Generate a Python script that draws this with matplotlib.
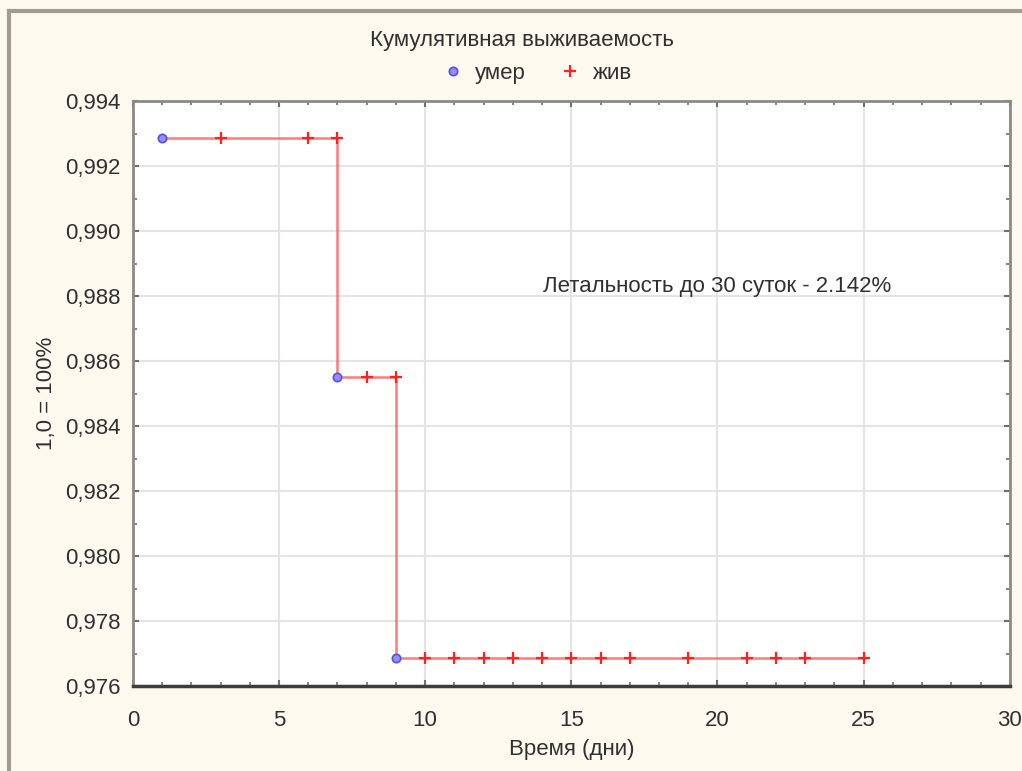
import matplotlib.pyplot as plt
from matplotlib.lines import Line2D
from matplotlib.ticker import MultipleLocator, FuncFormatter

plt.rcParams['font.family'] = ['Liberation Sans', 'DejaVu Sans']

# Kaplan-Meier step curve
step_t = [1, 7, 9, 25]
step_s = [0.99286, 0.98551, 0.97687, 0.97687]

# died (complete observations)
died_t = [1, 7, 9]
died_s = [0.99286, 0.98551, 0.97687]

# alive (censored observations)
cens_t = [3, 6, 7, 8, 9, 10, 11, 12, 13, 14, 15, 16, 17, 19, 21, 22, 23, 25]
cens_s = [0.99286, 0.99286, 0.99286, 0.98551, 0.98551] + [0.97687] * 13

bg = '#fdf9ee'
fs = 16
fig = plt.figure(figsize=(10.22, 7.71), dpi=100, facecolor=bg)
ax = fig.add_axes([0.130, 0.110, 0.858, 0.759])
ax.set_facecolor('white')

ax.step(step_t, step_s, where='post', color='#ff5a5a', lw=1.8, alpha=0.8, zorder=2)
ax.plot(cens_t, cens_s, ls='none', marker='+', ms=9, mew=1.6, color='#ff2020',
        label='жив', zorder=3)
ax.plot(died_t, died_s, ls='none', marker='o', ms=6, mew=1.2, mfc='#9a8cf0',
        mec='#5050f0', label='умер', zorder=4)

ax.set_xlim(0, 30)
ax.set_ylim(0.976, 0.994)
ax.xaxis.set_major_locator(MultipleLocator(5))
ax.xaxis.set_minor_locator(MultipleLocator(1))
ax.yaxis.set_major_locator(MultipleLocator(0.002))
ax.yaxis.set_minor_locator(MultipleLocator(0.001))
ax.yaxis.set_major_formatter(FuncFormatter(lambda v, p: f'{v:.3f}'.replace('.', ',')))

ax.grid(True, which='major', color='#e4e4e4', lw=1.5)
ax.set_axisbelow(True)
ax.tick_params(which='both', direction='in', top=True, right=True,
               color='#707070', labelsize=fs, labelcolor='#303030')
ax.tick_params(axis='y', which='major', pad=9)
ax.tick_params(axis='x', which='major', pad=17)
ax.tick_params(which='major', length=4, width=1.5)
ax.tick_params(which='minor', length=3, width=1.2)

for s in ['left', 'top', 'right']:
    ax.spines[s].set_color('#8c8a86')
    ax.spines[s].set_linewidth(2)
ax.spines['bottom'].set_color('#3c3c3c')
ax.spines['bottom'].set_linewidth(2.5)

ax.set_xlabel('Время (дни)', fontsize=fs, color='#303030', labelpad=6)
ax.set_ylabel('1,0 = 100%', fontsize=fs, color='#303030', labelpad=6)

ax.text(20, 0.9883, 'Летальность до 30 суток - 2.142%', fontsize=fs,
        color='#303030', ha='center', va='center')

fig.text(0.511, 0.948, 'Кумулятивная выживаемость', fontsize=fs,
         color='#303030', ha='center', va='center')
h, l = ax.get_legend_handles_labels()
fig.legend(h[::-1], l[::-1], loc='center', bbox_to_anchor=(0.524, 0.905), ncol=2,
           frameon=False, fontsize=fs, handletextpad=0.4, columnspacing=1.4,
           handlelength=1.2, labelcolor='#303030')

# outer frame of the graph window
fig.add_artist(Line2D([0.009, 0.009], [0, 0.986], transform=fig.transFigure,
                      color='#a09c94', lw=3))
fig.add_artist(Line2D([0.009, 1], [0.986, 0.986], transform=fig.transFigure,
                      color='#a09c94', lw=3))

fig.savefig('out.png', dpi=100, facecolor=bg)
